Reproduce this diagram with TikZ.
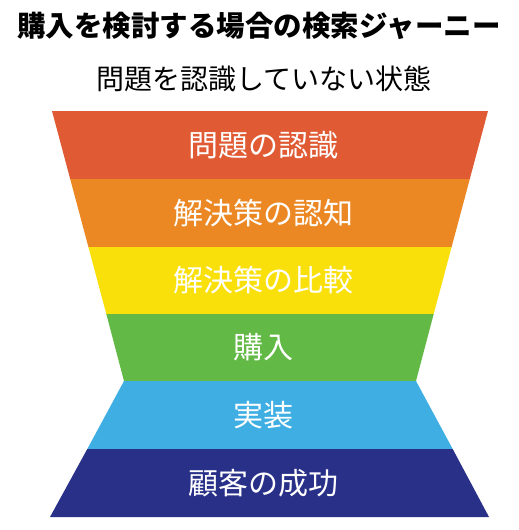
\documentclass[tikz,border=0pt]{standalone}
\usepackage{fontspec}
\setmainfont{Noto Sans CJK JP}
\definecolor{bandRed}{HTML}{E05B34}
\definecolor{bandOrange}{HTML}{EC8823}
\definecolor{bandYellow}{HTML}{F9E00A}
\definecolor{bandGreen}{HTML}{62B946}
\definecolor{bandBlue}{HTML}{3EAEE3}
\definecolor{bandNavy}{HTML}{283088}
\tikzset{
	bandlabel/.style={text=white, font=\fontsize{30}{32}\selectfont},
}
\begin{document}
\begin{tikzpicture}[x=1pt,y=-1pt]
	\useasboundingbox (0,0) rectangle (519,530);
	% heading
	\node[font=\bfseries\fontsize{28.5}{30}\selectfont] (title) at (259,26) {購入を検討する場合の検索ジャーニー};
	\node[font=\fontsize{28}{30}\selectfont] (unaware) at (264,79) {問題を認識していない状態};
	% funnel
	\fill[bandRed] (52,111) -- (488,111) -- (469.8,179) -- (70.2,179) -- cycle;
	\fill[bandOrange] (70.2,179) -- (469.8,179) -- (451.6,247) -- (88.4,247) -- cycle;
	\fill[bandYellow] (88.4,247) -- (451.6,247) -- (433.7,314) -- (106.3,314) -- cycle;
	\fill[bandGreen] (106.3,314) -- (433.7,314) -- (416,381) -- (124,381) -- cycle;
	\fill[bandBlue] (124,381) -- (416,381) -- (452.7,449) -- (87.3,449) -- cycle;
	\fill[bandNavy] (87.3,449) -- (452.7,449) -- (489,517) -- (50,517) -- cycle;
	% labels
	\node[bandlabel] (problem) at (263,145) {問題の認識};
	\node[bandlabel] (solution) at (263,213) {解決策の認知};
	\node[bandlabel] (compare) at (263,280.5) {解決策の比較};
	\node[bandlabel] (purchase) at (263,347.5) {購入};
	\node[bandlabel] (deploy) at (263,415) {実装};
	\node[bandlabel] (success) at (263,483) {顧客の成功};
\end{tikzpicture}
\end{document}
